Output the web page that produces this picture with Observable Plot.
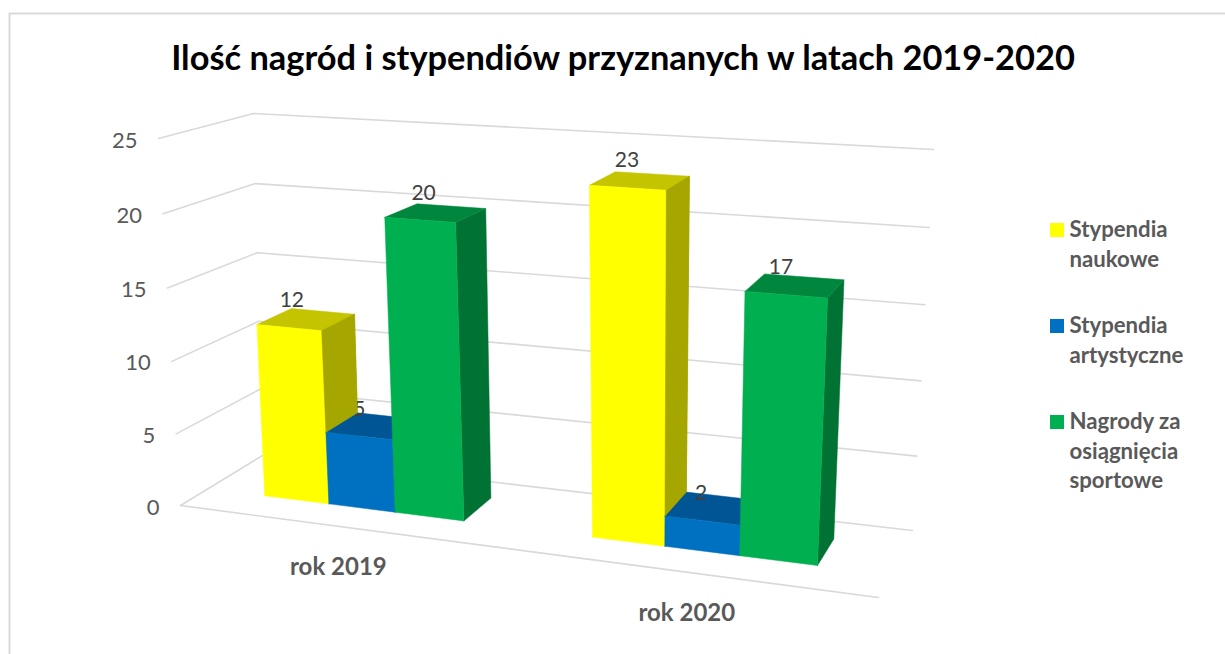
<!DOCTYPE html>
<html lang="pl">
<head>
<meta charset="utf-8">
<script src="https://cdn.jsdelivr.net/npm/d3@7"></script>
<script src="https://cdn.jsdelivr.net/npm/@observablehq/plot@0.6"></script>
<style>
html,body{margin:0;padding:0;background:#fff;overflow:hidden}
svg{display:block}
</style>
</head>
<body>
<div id="chart"></div>
<script>
// DATA
const titleText = "Ilość nagród i stypendiów przyznanych w latach 2019-2020";
const categories = ["rok 2019", "rok 2020"];
const seriesNames = ["Stypendia\nnaukowe", "Stypendia\nartystyczne", "Nagrody za\nosiągnięcia\nsportowe"];
const stypendiaNaukowe = [12, 23];
const stypendiaArtystyczne = [5, 2];
const nagrodySportowe = [20, 17];
const valueTicks = [0, 5, 10, 15, 20, 25];
const frontColors = ["#FFFF00", "#0070C0", "#00B050"];
const topColors = ["#C4C400", "#005694", "#00873D"];
const sideColors = ["#A6A600", "#004A7D", "#007234"];

const W = 1225, H = 654;
const series = [stypendiaNaukowe, stypendiaArtystyczne, nagrodySportowe];

// Camera: the view of the unit floor and of the plane at the axis maximum
function homography(p00, p10, p11, p01) {
  const dx1 = p10[0] - p11[0], dx2 = p01[0] - p11[0], sx = p00[0] - p10[0] + p11[0] - p01[0];
  const dy1 = p10[1] - p11[1], dy2 = p01[1] - p11[1], sy = p00[1] - p10[1] + p11[1] - p01[1];
  const den = dx1 * dy2 - dx2 * dy1;
  const g = (sx * dy2 - dx2 * sy) / den, h = (dx1 * sy - sx * dy1) / den;
  const a = p10[0] - p00[0] + g * p10[0], b = p01[0] - p00[0] + h * p01[0];
  const d = p10[1] - p00[1] + g * p10[1], e = p01[1] - p00[1] + h * p01[1];
  return (u, t) => {
    const w = 1 + g * u + h * t;
    return [(a * u + b * t + p00[0]) / w, (d * u + e * t + p00[1]) / w];
  };
}
const floorPlane = homography([180, 505], [878, 597], [912, 530], [262, 455]);
const topPlane = homography([158, 138], [901, 185], [933, 149], [253, 113]);
const vMax = d3.max(valueTicks);
function project(u, depth, v) {
  const f = floorPlane(u, depth), c = topPlane(u, depth);
  const x = v / vMax, t = x * (1 - 0.03) / (1 - 0.03 * x);
  return [f[0] + (c[0] - f[0]) * t, f[1] + (c[1] - f[1]) * t];
}

// Bars in floor coordinates
const catCenters = [0.2565, 0.757], barWidths = [0.1063, 0.1012], depthFront = 0.32, depthBack = 0.73;

const faces = [], labels = [], sideTips = [];
categories.forEach((cat, i) => {
  series.forEach((vals, s) => {
    const v = vals[i], bw = barWidths[i];
    const u0 = catCenters[i] + (s - 1.5) * bw, u1 = u0 + bw;
    const add = (list, id, fill, corners) => corners.forEach(c => {
      const p = project(c[0], c[1], c[2]);
      list.push({id: `${i}-${s}-${id}`, x: p[0], y: p[1], fill});
    });
    add(faces, "side", sideColors[s], [[u1, depthFront, 0], [u1, depthBack, 0], [u1, depthBack, v], [u1, depthFront, v], [u1, depthFront, 0]]);
    add(faces, "top", topColors[s], [[u0, depthFront, v], [u1, depthFront, v], [u1, depthBack, v], [u0, depthBack, v], [u0, depthFront, v]]);
    add(faces, "front", frontColors[s], [[u0, depthFront, 0], [u1, depthFront, 0], [u1, depthFront, v], [u0, depthFront, v], [u0, depthFront, 0]]);
    // the part of a side wall that rises above the next bar stands in front of the value label
    const next = series[s + 1] ? series[s + 1][i] : null;
    if (next !== null && next < v) {
      add(sideTips, "tip", sideColors[s], [[u1, depthFront, next], [u1, depthBack, next], [u1, depthBack, v], [u1, depthFront, v], [u1, depthFront, next]]);
    }
    const um = (u0 + u1) / 2;
    labels.push({x: project(um, depthFront, v / 2)[0], y: project(um, depthFront, v)[1], text: String(v)});
  });
});

const grid = [];
valueTicks.forEach(v => {
  [[0, 0], [0, 1], [1, 1]].forEach(([u, t]) => {
    const p = project(u, t, v);
    grid.push({id: "v" + v, x: p[0], y: p[1]});
  });
});
[[0, 0], [1, 0]].forEach(([u, t]) => {
  const p = project(u, t, 0);
  grid.push({id: "front", x: p[0], y: p[1]});
});

const tickLabels = valueTicks.map(v => {
  const p = project(0, 0, v);
  return {x: p[0], y: p[1], text: String(v)};
});
const catLabels = categories.map((c, i) => {
  const p = project(catCenters[i] + 0.002, 0, 0);
  return {x: p[0], y: p[1], text: c};
});

// Legend layout
const legendX = 1050, legendTextX = 1069, legendRows = [223, 319, 415], swatch = 14;
const legendSwatches = seriesNames.map((n, i) => ({x1: legendX, x2: legendX + swatch, y1: legendRows[i], y2: legendRows[i] + swatch, fill: frontColors[i]}));
const legendTexts = seriesNames.map((n, i) => ({x: legendTextX, y: legendRows[i] - 7, text: n}));

const font = "Lato, Carlito, sans-serif";
const chart = Plot.plot({
  width: W, height: H, margin: 0,
  x: {domain: [0, W], range: [0, W], axis: null},
  y: {domain: [0, H], range: [0, H], axis: null},
  color: {type: "identity"},
  style: {fontFamily: font, background: "#fff"},
  marks: [
    Plot.ruleY([13], {x1: 9, x2: W, stroke: "#d9d9d9", strokeWidth: 2}),
    Plot.ruleX([9], {y1: 13, y2: H, stroke: "#d9d9d9", strokeWidth: 2}),
    Plot.line(grid, {x: "x", y: "y", z: "id", stroke: "#d9d9d9", strokeWidth: 1.6}),
    Plot.line(faces, {x: "x", y: "y", z: "id", fill: "fill", stroke: "fill", strokeWidth: 0.5}),
    Plot.text(labels, {x: "x", y: "y", text: "text", dx: -1, dy: -27, fontSize: 21, fill: "#404040"}),
    Plot.line(sideTips, {x: "x", y: "y", z: "id", fill: "fill", stroke: "fill", strokeWidth: 0.5}),
    Plot.text(tickLabels, {x: "x", y: "y", text: "text", dx: -21, dy: 2, textAnchor: "end", fontSize: 22, fill: "#595959"}),
    Plot.text(catLabels, {x: "x", y: "y", text: "text", dy: 41, fontSize: 24, fontWeight: 700, fill: "#595959"}),
    Plot.text([titleText], {x: 622.5, y: 58, text: d => d, fontSize: 34.4, fontWeight: 700, fill: "#000"}),
    Plot.rect(legendSwatches, {x1: "x1", x2: "x2", y1: "y1", y2: "y2", fill: "fill"}),
    Plot.text(legendTexts, {x: "x", y: "y", text: "text", textAnchor: "start", lineAnchor: "top", lineHeight: 1.32, fontSize: 22.2, fontWeight: 700, fill: "#595959"})
  ]
});
document.getElementById("chart").append(chart);
</script>
</body>
</html>
